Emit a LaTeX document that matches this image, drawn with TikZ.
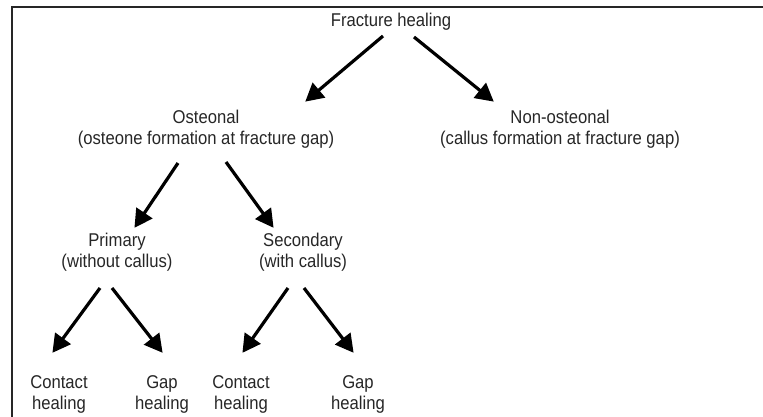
\documentclass[tikz,border=0pt]{standalone}
\usepackage{fontspec}
\setmainfont{Liberation Sans}[FakeStretch=0.9]
\usetikzlibrary{arrows.meta}
\tikzset{
  lbl/.style={inner sep=0pt, align=center, anchor=base, text=black!85,
    font=\fontsize{18.5}{20.8}\selectfont},
  arr/.style={line width=3.2pt, -{Triangle[length=18pt,width=19pt]}, shorten >=-1pt}
}
\begin{document}
\begin{tikzpicture}[x=1pt,y=-1pt]
\useasboundingbox (0,0) rectangle (763,416);
% border
\draw[line width=2pt, black!85] (12,417) -- (12,7) -- (764,7);
% nodes (anchor base = baseline of the last line)
\node[lbl] (fh) at (391,26) {Fracture healing};
\node[lbl] (ost) at (206,144) {Osteonal\\(osteone formation at fracture gap)};
\node[lbl] (non) at (560,144) {Non-osteonal\\(callus formation at fracture gap)};
\node[lbl] (pri) at (117,267) {Primary\\(without callus)};
\node[lbl] (sec) at (303,267) {Secondary\\(with callus)};
\node[lbl] (c1) at (59,409) {Contact\\healing};
\node[lbl] (g1) at (162,409) {Gap\\healing};
\node[lbl] (c2) at (241,409) {Contact\\healing};
\node[lbl] (g2) at (358,409) {Gap\\healing};
% arrow end points
\coordinate (fhL) at (383,36);  \coordinate (ostT) at (306,101);
\coordinate (fhR) at (414,37);  \coordinate (nonT) at (493,101);
\coordinate (ostL) at (178,163); \coordinate (priT) at (135,227);
\coordinate (ostR) at (226,162); \coordinate (secT) at (273,227);
\coordinate (priL) at (100,288); \coordinate (c1T) at (53,352);
\coordinate (priR) at (112,288); \coordinate (g1T) at (162,352);
\coordinate (secL) at (288,288); \coordinate (c2T) at (243,352);
\coordinate (secR) at (304,288); \coordinate (g2T) at (353,352);
% arrows
\draw[arr] (fhL) -- (ostT);
\draw[arr] (fhR) -- (nonT);
\draw[arr] (ostL) -- (priT);
\draw[arr] (ostR) -- (secT);
\draw[arr] (priL) -- (c1T);
\draw[arr] (priR) -- (g1T);
\draw[arr] (secL) -- (c2T);
\draw[arr] (secR) -- (g2T);
\end{tikzpicture}
\end{document}
